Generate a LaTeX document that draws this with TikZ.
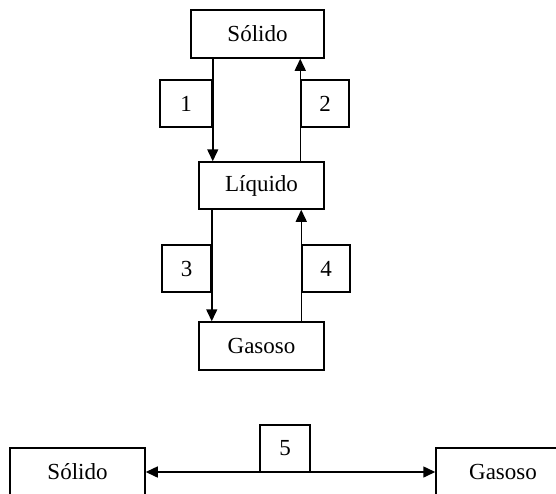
\documentclass[tikz,border=0pt]{standalone}
\usepackage{fontspec}
\setmainfont{Liberation Serif}
\usetikzlibrary{arrows.meta}
\tikzset{
  box/.style={draw, line width=1.5pt, rectangle, inner sep=0pt, font=\fontsize{23pt}{27pt}\selectfont},
  arr/.style={line width=1.5pt, -{Triangle[length=12pt,width=11pt]}},
  darr/.style={line width=1.5pt, {Triangle[length=12pt,width=11pt]}-{Triangle[length=12pt,width=11pt]}}
}
\begin{document}
\begin{tikzpicture}[x=1pt,y=-1pt]
\useasboundingbox (0,0) rectangle (556,493);
\clip (0,0) rectangle (556,493);
\node[box, minimum width=133pt, minimum height=48pt] (sol) at (257.5,34) {Sólido};
\node[box, minimum width=125pt, minimum height=47pt] (liq) at (261.5,185.5) {Líquido};
\node[box, minimum width=125pt, minimum height=48pt] (gas) at (261.5,346) {Gasoso};
\node[box, minimum width=52pt, minimum height=47pt] (b1) at (186,103.5) {1};
\node[box, minimum width=48pt, minimum height=47pt] (b2) at (325,103.5) {2};
\node[box, minimum width=49pt, minimum height=47pt] (b3) at (186.5,268.5) {3};
\node[box, minimum width=48pt, minimum height=47pt] (b4) at (326,268.5) {4};
\draw[arr] (b1.east |- sol.south) -- (b1.east |- liq.north);
\draw[arr] (b2.west |- liq.north) -- (b2.west |- sol.south);
\draw[arr] (b3.east |- liq.south) -- (b3.east |- gas.north);
\draw[arr] (b4.west |- gas.north) -- (b4.west |- liq.south);
\node[box, minimum width=135pt, minimum height=48pt] (sol2) at (77.5,472) {Sólido};
\node[box, minimum width=134pt, minimum height=48pt] (gas2) at (503,472) {Gasoso};
\node[box, minimum width=50pt, minimum height=47pt] (b5) at (285,448.5) {5};
\draw[darr] (sol2.east) -- (gas2.west);
\end{tikzpicture}
\end{document}
